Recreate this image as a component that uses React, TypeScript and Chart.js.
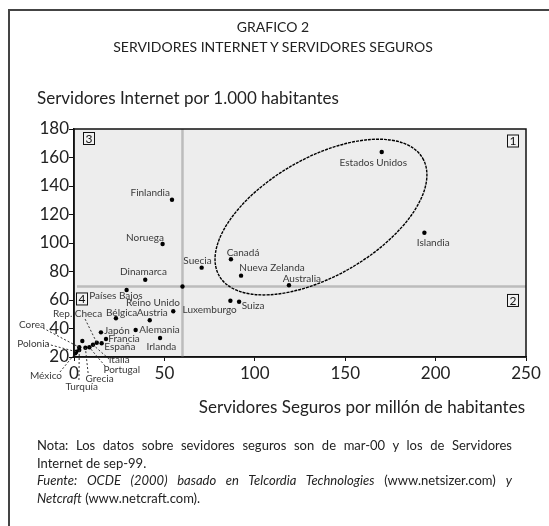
import React, { useEffect, useRef } from "react";
import { Chart, registerables } from "chart.js";

Chart.register(...registerables);

// ---------- DATA ----------
const COUNTRIES = [
  "Estados Unidos", "Islandia", "Canadá", "Nueva Zelanda", "Australia",
  "Suecia", "Finlandia", "Noruega", "Dinamarca", "OCDE",
  "Países Bajos", "Reino Unido", "Bélgica", "Austria", "Japón",
  "Alemania", "Irlanda", "Francia", "España", "Luxemburgo", "Suiza",
  "Hungría", "Rep. Checa", "Italia", "Portugal", "Grecia",
  "Corea", "Turquía", "Polonia", "México",
];
// Servidores seguros por millón de habitantes (x)
const SECURE_SERVERS = [
  170.2, 193.8, 86.8, 92.4, 118.9,
  70.6, 54.2, 49.0, 39.4, 60.0,
  29.1, 54.9, 23.2, 41.9, 14.9,
  34.1, 47.6, 17.7, 15.3, 86.5, 91.3,
  4.6, 12.6, 10.5, 8.5, 6.3,
  2.9, 2.9, 1.3, 0.7,
];
// Servidores Internet por 1.000 habitantes (y)
const INTERNET_HOSTS = [
  163.9, 107.2, 88.6, 77.1, 70.3,
  82.7, 130.4, 99.3, 74.2, 69.5,
  67.0, 52.1, 47.2, 45.8, 37.3,
  38.9, 33.3, 32.6, 29.6, 59.5, 58.8,
  31.2, 30.0, 28.6, 26.8, 26.5,
  26.8, 24.9, 23.7, 22.6,
];
const X_TICKS = [0, 50, 100, 150, 200, 250];
const Y_TICKS = [20, 40, 60, 80, 100, 120, 140, 160, 180];
const OECD_AVG_SECURE = 60;
const OECD_AVG_HOSTS = 69.5;
const QUADRANTS = ["1", "2", "3", "4"];
const ELLIPSE_CENTER = { x: 136.6, y: 118.2 };

// ---------- LABEL PLACEMENT (pixels, relative to the point) ----------
type LabelPos = { dx: number; dy: number; align: CanvasTextAlign; lead?: [number, number] };
const LABEL_POS: Record<string, LabelPos> = {
  "Estados Unidos": { dx: -8.4, dy: 11.3, align: "center" },
  "Islandia": { dx: -7.6, dy: 10, align: "left" },
  "Canadá": { dx: -4.3, dy: -6.6, align: "left" },
  "Nueva Zelanda": { dx: -1.7, dy: -7.4, align: "left" },
  "Australia": { dx: -6.3, dy: -7, align: "left" },
  "Suecia": { dx: 10, dy: -7, align: "right" },
  "Finlandia": { dx: -2, dy: -7, align: "right" },
  "Noruega": { dx: 1.3, dy: -6.7, align: "right" },
  "Dinamarca": { dx: -1.8, dy: -8, align: "center" },
  "Países Bajos": { dx: -37.4, dy: 5.7, align: "left" },
  "Reino Unido": { dx: 6.7, dy: -8, align: "right" },
  "Bélgica": { dx: 5.7, dy: -5.6, align: "center" },
  "Austria": { dx: 2.5, dy: -7.6, align: "center" },
  "Japón": { dx: 3, dy: -1.6, align: "left" },
  "Alemania": { dx: 3.6, dy: 0, align: "left" },
  "Irlanda": { dx: 1.3, dy: 8.7, align: "center" },
  "Francia": { dx: 2.3, dy: -0.3, align: "left" },
  "España": { dx: 2.6, dy: 3.4, align: "left" },
  "Luxemburgo": { dx: 6.4, dy: 8.6, align: "right" },
  "Suiza": { dx: 2.7, dy: 4.3, align: "left" },
  "Rep. Checa": { dx: -19.2, dy: -29.4, align: "center", lead: [-11.7, -23.7] },
  "Corea": { dx: -47.3, dy: -23, align: "center", lead: [-36.3, -19.3] },
  "Polonia": { dx: -43, dy: -8.4, align: "center", lead: [-29.3, -7.7] },
  "México": { dx: -29.3, dy: 22.7, align: "center", lead: [-15.3, 18.7] },
  "Turquía": { dx: 2.4, dy: 36.7, align: "center", lead: [-0.3, 30] },
  "Grecia": { dx: 14.2, dy: 30.6, align: "center", lead: [2.7, 25.3] },
  "Portugal": { dx: 32.4, dy: 22, align: "center", lead: [15.7, 18.7] },
  "Italia": { dx: 26.2, dy: 15.3, align: "center", lead: [16, 14.3] },
};

const FONT = "Lato, 'Open Sans', sans-serif";

const annotationPlugin = {
  id: "annotations",
  beforeDraw(chart: any) {
    const { ctx, chartArea: a } = chart;
    ctx.save();
    ctx.fillStyle = "#ededed";
    ctx.fillRect(a.left, a.top, a.right - a.left, a.bottom - a.top);
    ctx.restore();
  },
  beforeDatasetsDraw(chart: any) {
    const { ctx, chartArea: a, scales } = chart;
    const vx = scales.x.getPixelForValue(OECD_AVG_SECURE);
    const hy = scales.y.getPixelForValue(OECD_AVG_HOSTS);
    ctx.save();
    ctx.strokeStyle = "#bcbcbc";
    ctx.lineWidth = 2.5;
    ctx.beginPath();
    ctx.moveTo(vx, a.top);
    ctx.lineTo(vx, a.bottom);
    ctx.moveTo(a.left + 3, hy);
    ctx.lineTo(a.right, hy);
    ctx.stroke();
    ctx.restore();
  },
  afterDraw(chart: any) {
    const { ctx, chartArea: a, scales } = chart;
    const xs = scales.x, ys = scales.y;
    ctx.save();
    // ellipse
    const cx = xs.getPixelForValue(ELLIPSE_CENTER.x);
    const cy = ys.getPixelForValue(ELLIPSE_CENTER.y);
    ctx.strokeStyle = "#000";
    ctx.lineWidth = 1.4;
    ctx.setLineDash([3, 1]);
    ctx.beginPath();
    ctx.ellipse(cx, cy, 117.5, 59, (-30 * Math.PI) / 180, 0, Math.PI * 2);
    ctx.stroke();
    ctx.setLineDash([]);

    // labels
    ctx.font = `10px ${FONT}`;
    ctx.textBaseline = "middle";
    COUNTRIES.forEach((name, i) => {
      const p = LABEL_POS[name];
      if (!p) return;
      const px = xs.getPixelForValue(SECURE_SERVERS[i]);
      const py = ys.getPixelForValue(INTERNET_HOSTS[i]);
      if (p.lead) {
        ctx.strokeStyle = "#333";
        ctx.lineWidth = 1;
        ctx.setLineDash([2, 2]);
        ctx.beginPath();
        ctx.moveTo(px + p.lead[0], py + p.lead[1]);
        ctx.lineTo(px, py);
        ctx.stroke();
        ctx.setLineDash([]);
      }
      ctx.fillStyle = "#3a3a3a";
      ctx.textAlign = p.align;
      ctx.fillText(name, px + p.dx, py + p.dy);
    });

    // quadrant boxes
    const hy = ys.getPixelForValue(OECD_AVG_HOSTS);
    const boxes: Record<string, [number, number]> = {
      "1": [a.right - 13, a.top + 12],
      "2": [a.right - 13, hy + 14],
      "3": [a.left + 15, a.top + 9.5],
      "4": [a.left + 8, hy + 12.5],
    };
    ctx.font = `12px ${FONT}`;
    ctx.textAlign = "center";
    QUADRANTS.forEach((q) => {
      const [bx, by] = boxes[q];
      ctx.fillStyle = "#f2f2f2";
      ctx.fillRect(bx - 5.5, by - 6, 11, 12);
      ctx.strokeStyle = "#111";
      ctx.lineWidth = 1;
      ctx.strokeRect(bx - 5.5, by - 6, 11, 12);
      ctx.fillStyle = "#111";
      ctx.fillText(q, bx, by + 0.5);
    });

    // plot frame
    ctx.strokeStyle = "#111";
    ctx.lineWidth = 1.5;
    ctx.strokeRect(a.left, a.top, a.right - a.left, a.bottom - a.top);
    ctx.restore();
  },
};

export default function App() {
  const ref = useRef<HTMLCanvasElement | null>(null);

  useEffect(() => {
    if (!ref.current) return;
    const Y_AXIS_W = 40;
    const X_AXIS_H = 30;
    const chart = new Chart(ref.current, {
      type: "scatter",
      data: {
        datasets: [
          {
            data: COUNTRIES.map((_, i) => ({ x: SECURE_SERVERS[i], y: INTERNET_HOSTS[i] })),
            backgroundColor: "#000",
            borderWidth: 0,
            pointRadius: 2.2,
          },
        ],
      },
      options: {
        responsive: false,
        animation: false,
        events: [],
        layout: {
          padding: { left: 74 - Y_AXIS_W, top: 129, right: 23, bottom: 526 - 357 - X_AXIS_H },
        },
        plugins: { legend: { display: false }, tooltip: { enabled: false }, title: { display: false } },
        scales: {
          x: {
            type: "linear",
            min: X_TICKS[0],
            max: X_TICKS[X_TICKS.length - 1],
            afterBuildTicks: (s: any) => { s.ticks = X_TICKS.map((v) => ({ value: v })); },
            afterFit: (s: any) => { s.height = X_AXIS_H; },
            ticks: { color: "#222", font: { family: FONT, size: 17 }, padding: 2, maxRotation: 0 },
            grid: { drawOnChartArea: false, drawTicks: true, tickLength: 4, color: "#111", lineWidth: 1 },
            border: { display: true, color: "#111", width: 1.5 },
          },
          y: {
            type: "linear",
            min: Y_TICKS[0],
            max: Y_TICKS[Y_TICKS.length - 1],
            afterBuildTicks: (s: any) => { s.ticks = Y_TICKS.map((v) => ({ value: v })); },
            afterFit: (s: any) => { s.width = Y_AXIS_W; },
            ticks: { color: "#222", font: { family: FONT, size: 17 }, padding: 0 },
            grid: { drawOnChartArea: false, drawTicks: true, tickLength: 5, color: "#111", lineWidth: 1 },
            border: { display: true, color: "#111", width: 1.5 },
          },
        },
      },
      plugins: [annotationPlugin],
    });
    return () => chart.destroy();
  }, []);

  const text = { fontFamily: FONT, color: "#222", position: "absolute" as const };
  const justifiedLine = { textAlign: "justify" as const, textAlignLast: "justify" as const, whiteSpace: "nowrap" as const };

  return (
    <div style={{ position: "fixed", left: 0, top: 0, width: 549, height: 526, background: "#fff", overflow: "hidden" }}>
      <div style={{ position: "absolute", left: 8, top: 9, width: 560, height: 560, borderLeft: "2px solid #444", borderTop: "2px solid #444" }} />
      <canvas ref={ref} width={549} height={526} style={{ position: "absolute", left: 0, top: 0 }} />
      <div style={{ ...text, left: 0, width: 546, top: 17, textAlign: "center", fontSize: 14, lineHeight: "20px" }}>
        GRAFICO 2
        <br />
        SERVIDORES INTERNET Y SERVIDORES SEGUROS
      </div>
      <div style={{ ...text, left: 37, top: 87, fontSize: 17, lineHeight: "22px", whiteSpace: "nowrap" }}>
        Servidores Internet por 1.000 habitantes
      </div>
      <div style={{ ...text, right: 24, top: 396, fontSize: 17, lineHeight: "22px", whiteSpace: "nowrap" }}>
        Servidores Seguros por millón de habitantes
      </div>
      <div style={{ ...text, left: 37, top: 437, width: 475, fontSize: 13, lineHeight: "17.5px" }}>
        <div style={justifiedLine}>
          Nota: Los datos sobre sevidores seguros son de mar-00 y los de Servidores
        </div>
        <div>Internet de sep-99.</div>
        <div style={justifiedLine}>
          <i>Fuente: OCDE (2000) basado en Telcordia Technologies</i> (www.netsizer.com) <i>y</i>
        </div>
        <div>
          <i>Netcraft</i> (www.netcraft.com).
        </div>
      </div>
    </div>
  );
}
